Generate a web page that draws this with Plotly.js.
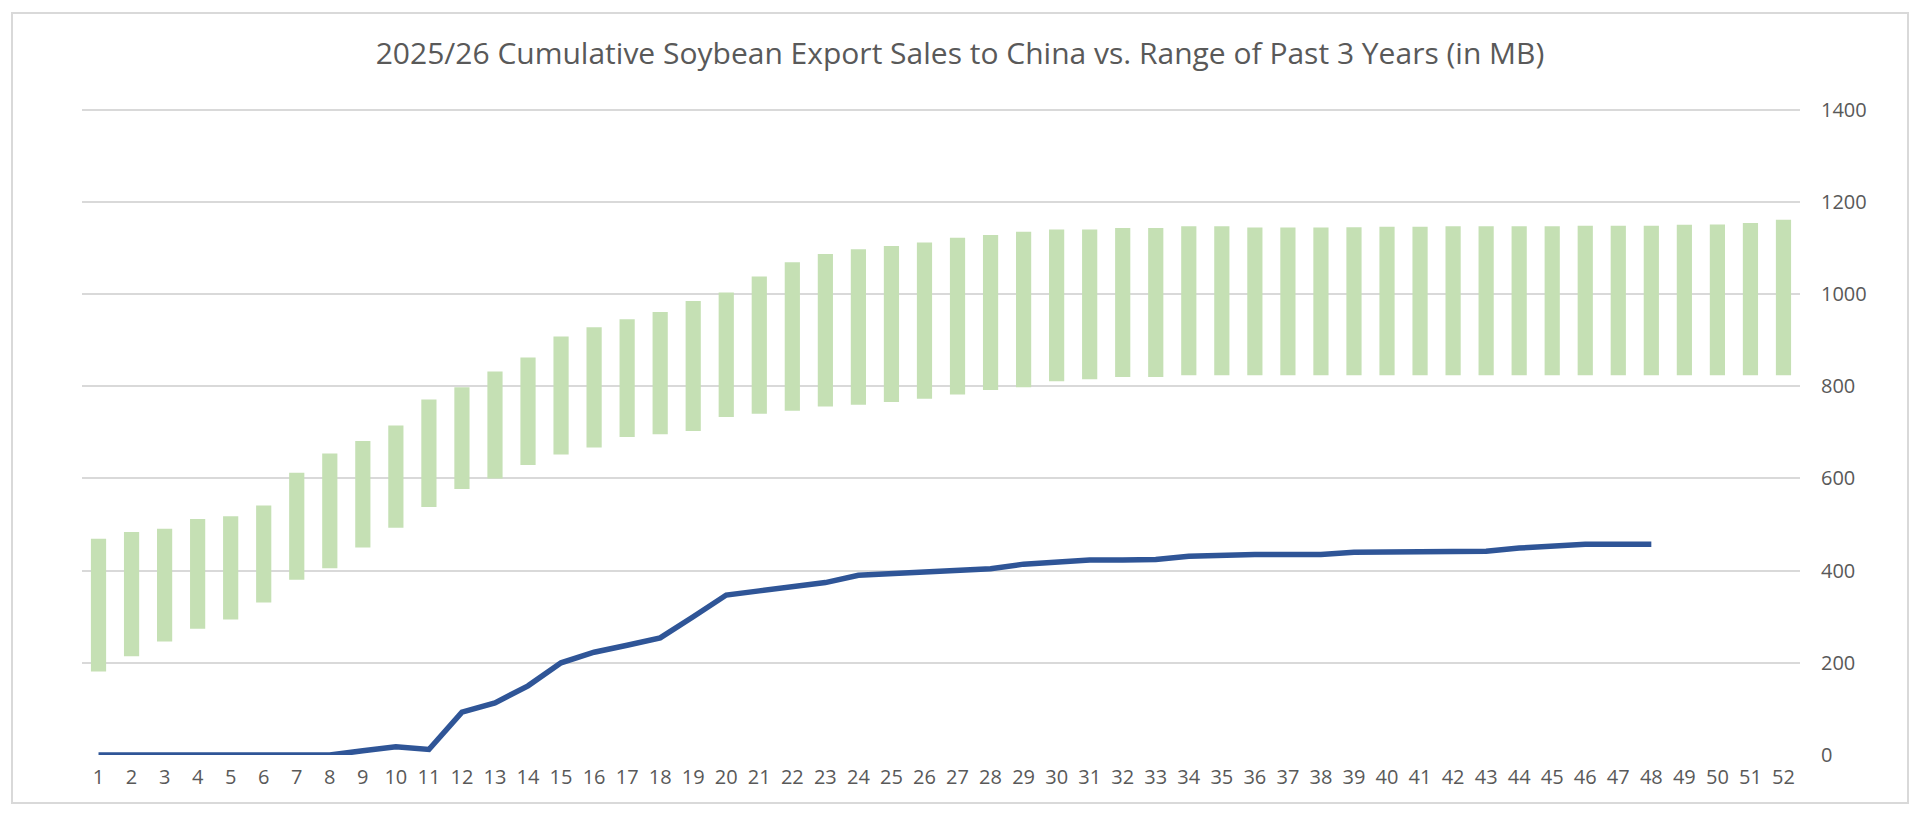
<!DOCTYPE html>
<html>
<head>
<meta charset="utf-8">
<script src="https://cdn.plot.ly/plotly-3.0.1.min.js"></script>
<style>
  body { margin: 0; background: #fff; }
  #wrap { position: relative; width: 1920px; height: 821px; }
  #chart { width: 1920px; height: 821px; }
  #frame { position: absolute; left: 11px; top: 12px; width: 1894px; height: 788px;
           border: 2px solid #d9d9d9; pointer-events: none; }
</style>
</head>
<body>
<div id="wrap">
  <div id="chart"></div>
  <div id="frame"></div>
</div>
<script>
// marketing-year weeks
var weeks = [];
for (var w = 1; w <= 52; w++) weeks.push(w);

// range of past 3 years (low / high), MB
var rangeLow = [181, 214, 246, 274, 294, 331, 380, 405, 450, 493, 538, 577, 600, 629, 652, 667, 690,
                696, 703, 733, 740, 747, 756, 760, 766, 773, 782, 792, 798, 811, 815, 820, 820, 824,
                824, 824, 824, 824, 824, 824, 824, 824, 824, 824, 824, 824, 824, 824, 824, 824, 824, 824];
var rangeHigh = [469, 484, 491, 512, 518, 541, 612, 654, 681, 715, 771, 798, 832, 862, 908, 928, 945,
                 961, 985, 1003, 1038, 1069, 1087, 1097, 1104, 1112, 1122, 1128, 1135, 1140, 1140, 1143, 1143, 1147,
                 1147, 1144, 1144, 1144, 1145, 1146, 1146, 1147, 1147, 1147, 1147, 1148, 1148, 1148, 1150, 1151, 1154, 1161];

// 2025/26 cumulative sales to China, MB (weeks 1-48)
var current = [0, 0, 0, 0, 0, 0, 0, 0, 9, 18, 12, 93, 113, 150, 200, 223, 238, 254, 300, 347,
               356, 364, 374, 390, 393, 397, 400, 404, 414, 418, 423, 423, 424, 431, 434, 435, 435, 435,
               440, 440, 440, 440, 442, 449, 453, 457, 457, 457];

var spans = rangeHigh.map(function (h, i) { return h - rangeLow[i]; });

var rangeTrace = {
  x: weeks,
  y: spans,
  base: rangeLow,
  type: 'bar',
  name: 'Past 3 Years Range',
  marker: {color: '#c5e0b4'},
  hoverinfo: 'x'
};
var currentTrace = {
  x: weeks.slice(0, current.length),
  y: current,
  type: 'scatter',
  mode: 'lines',
  name: '2025/26',
  line: {color: '#2f5597', width: 5.5}
};

var font = {family: 'Open Sans, sans-serif', color: '#595959'};

var layout = {
  width: 1920,
  height: 821,
  margin: {l: 82, r: 120, t: 105, b: 66},
  paper_bgcolor: '#ffffff',
  plot_bgcolor: '#ffffff',
  showlegend: false,
  bargap: 0.54,
  font: font,
  title: {
    text: '2025/26 Cumulative Soybean Export Sales to China vs. Range of Past 3 Years (in MB)',
    font: {family: 'Open Sans, sans-serif', size: 30, color: '#595959'},
    x: 0.5,
    xanchor: 'center',
    y: 0.935,
    yanchor: 'middle'
  },
  xaxis: {
    range: [0.5, 52.5],
    tickmode: 'array',
    tickvals: weeks,
    showgrid: false,
    zeroline: false,
    showline: false,
    ticks: '',
    tickfont: {size: 20, color: '#595959'},
    ticklabelstandoff: 8
  },
  yaxis: {
    side: 'right',
    range: [0, 1410],
    tickvals: [0, 200, 400, 600, 800, 1000, 1200, 1400],
    showgrid: true,
    gridcolor: '#d9d9d9',
    gridwidth: 2,
    zeroline: false,
    showline: false,
    ticks: '',
    tickfont: {size: 20, color: '#595959'},
    ticklabelstandoff: 20
  }
};

Plotly.newPlot('chart', [rangeTrace, currentTrace], layout, {staticPlot: true});
</script>
</body>
</html>
